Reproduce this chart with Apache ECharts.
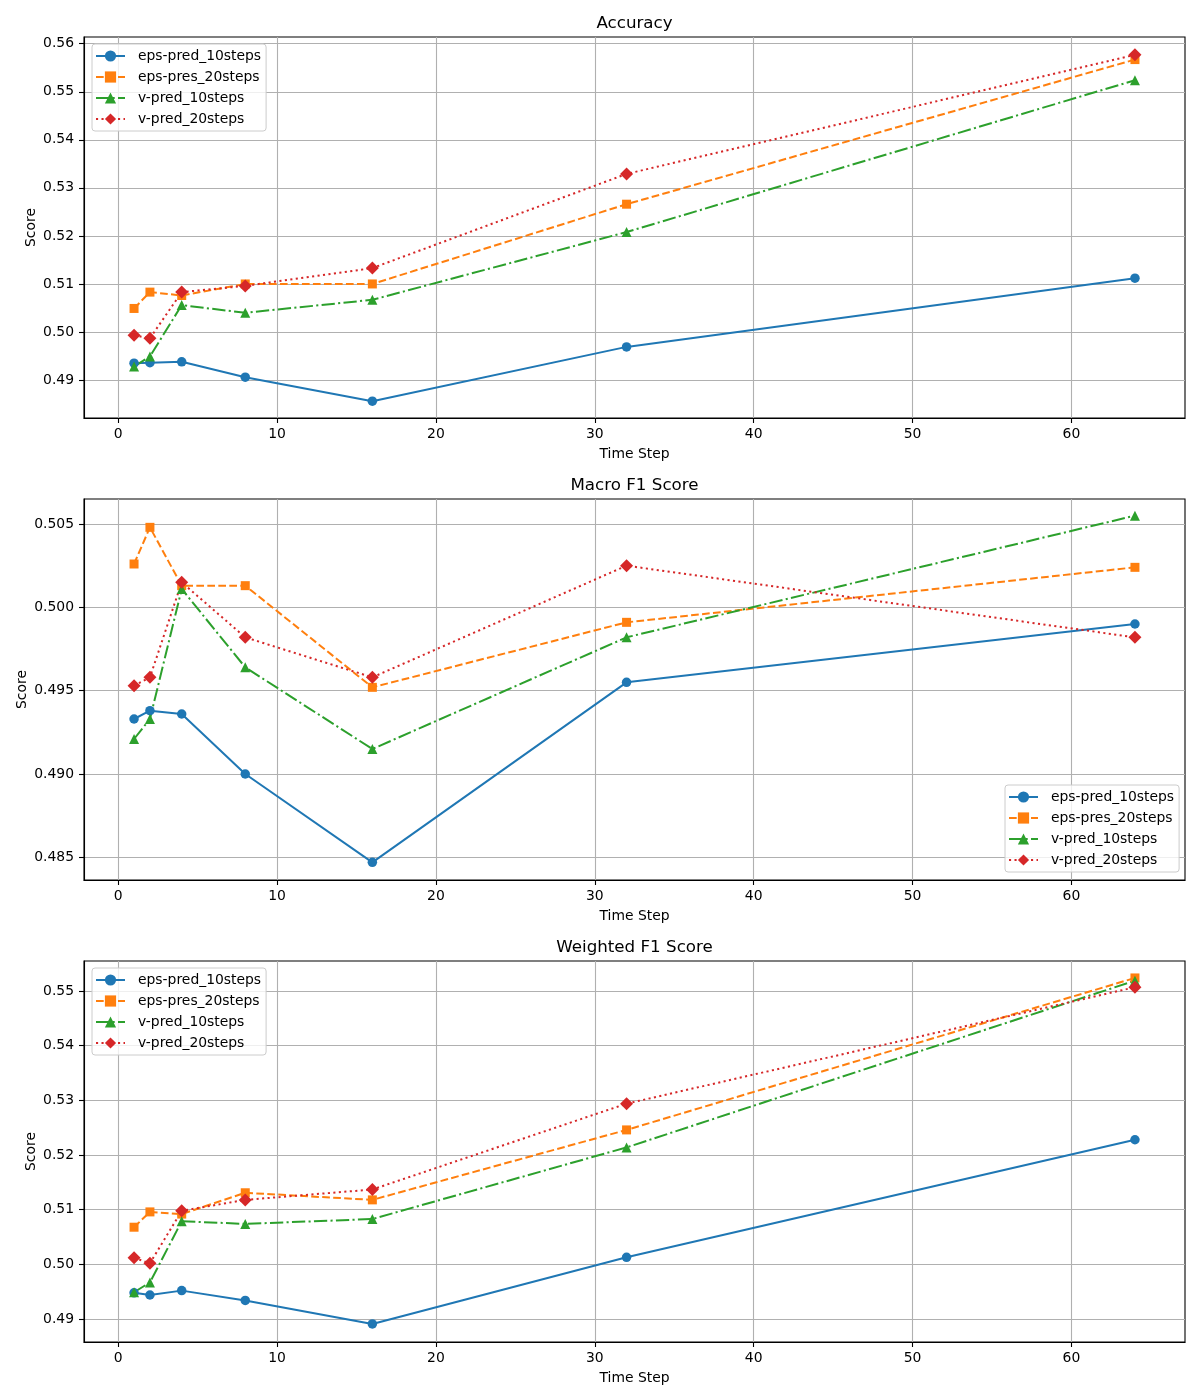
<!DOCTYPE html>
<html>
<head>
<meta charset="utf-8">
<title>Scores by time step</title>
<script src="https://cdn.jsdelivr.net/npm/echarts@6/dist/echarts.min.js"></script>
<style>
  html, body { margin: 0; padding: 0; background: #fff; }
  #chart { width: 1200px; height: 1400px; }
</style>
</head>
<body>
<div id="chart"></div>
<script>
// x values shared by every series
var timeSteps = [1, 2, 4, 8, 16, 32, 64];
var seriesNames = ["eps-pred_10steps", "eps-pres_20steps", "v-pred_10steps", "v-pred_20steps"];

// Accuracy
var accEpsPred10 = [0.4935, 0.4936, 0.4938, 0.4906, 0.4856, 0.4969, 0.5112];
var accEpsPres20 = [0.5049, 0.5083, 0.5076, 0.5100, 0.5100, 0.5266, 0.5567];
var accVPred10   = [0.4928, 0.4949, 0.5056, 0.5040, 0.5067, 0.5208, 0.5524];
var accVPred20   = [0.4993, 0.4987, 0.5083, 0.5096, 0.5133, 0.5329, 0.5577];

// Macro F1
var macEpsPred10 = [0.4933, 0.4938, 0.4936, 0.4900, 0.4847, 0.4955, 0.4990];
var macEpsPres20 = [0.5026, 0.5048, 0.5013, 0.5013, 0.4952, 0.4991, 0.5024];
var macVPred10   = [0.4921, 0.4933, 0.5011, 0.4964, 0.4915, 0.4982, 0.5055];
var macVPred20   = [0.4953, 0.4958, 0.5015, 0.4982, 0.4958, 0.5025, 0.4982];

// Weighted F1
var wEpsPred10 = [0.4948, 0.4944, 0.4952, 0.4934, 0.4891, 0.5013, 0.5228];
var wEpsPres20 = [0.5068, 0.5096, 0.5092, 0.5131, 0.5118, 0.5246, 0.5524];
var wVPred10   = [0.4949, 0.4967, 0.5079, 0.5074, 0.5083, 0.5214, 0.5519];
var wVPred20   = [0.5012, 0.5002, 0.5098, 0.5118, 0.5137, 0.5294, 0.5507];

// tick labels
var xTicks = [0, 10, 20, 30, 40, 50, 60];
var accTicks = [0.49, 0.50, 0.51, 0.52, 0.53, 0.54, 0.55, 0.56];
var macTicks = [0.485, 0.490, 0.495, 0.500, 0.505];
var wTicks = [0.49, 0.50, 0.51, 0.52, 0.53, 0.54, 0.55];

var colors = ["#1f77b4", "#ff7f0e", "#2ca02c", "#d62728"];
var symbols = ["circle", "rect", "triangle", "diamond"];
var symbolSizes = [9.5, 9, 10, 13];
var dashes = ["solid", [7.7, 3.3], [13.3, 3.3, 2.1, 3.3], [2.1, 3.4]];

var panels = [
  { title: "Accuracy", top: 37, min: 0.4821, max: 0.5614, ticks: accTicks, digits: 2, nameGap: 46,
    data: [accEpsPred10, accEpsPres20, accVPred10, accVPred20], legend: { left: 92, top: 44 } },
  { title: "Macro F1 Score", top: 499, min: 0.48364, max: 0.5065, ticks: macTicks, digits: 3, nameGap: 55,
    data: [macEpsPred10, macEpsPres20, macVPred10, macVPred20], legend: { left: 1005, top: 785 } },
  { title: "Weighted F1 Score", top: 961, min: 0.4858, max: 0.5555, ticks: wTicks, digits: 2, nameGap: 46,
    data: [wEpsPred10, wEpsPres20, wVPred10, wVPred20], legend: { left: 92, top: 968 } }
];

var plotLeft = 84, plotRight = 1185, plotHeight = 381;
var textStyle = { fontFamily: "DejaVu Sans", fontSize: 13.9, color: "#000" };

var option = {
  animation: false,
  backgroundColor: "#fff",
  textStyle: { fontFamily: "DejaVu Sans" },
  grid: [], xAxis: [], yAxis: [], legend: [], series: [], graphic: []
};

panels.forEach(function (p, i) {
  option.grid.push({
    left: plotLeft, width: plotRight - plotLeft, top: p.top, height: plotHeight,
    show: true, borderColor: "#000", borderWidth: 1.1, backgroundColor: "transparent"
  });
  option.xAxis.push({
    type: "value", gridIndex: i, min: -2.15, max: 67.15,
    name: "Time Step", nameLocation: "middle", nameGap: 29, nameMoveOverlap: false,
    nameTextStyle: textStyle,
    axisLine: { show: true, onZero: false, lineStyle: { color: "#000", width: 1.1 } },
    axisTick: { show: true, length: 5, customValues: xTicks, lineStyle: { color: "#000", width: 1.1 } },
    axisLabel: { customValues: xTicks, margin: 9, fontFamily: "DejaVu Sans", fontSize: 13.9, color: "#000" },
    splitLine: { show: true, lineStyle: { color: "#b0b0b0", width: 1.1 } }
  });
  option.yAxis.push({
    type: "value", gridIndex: i, min: p.min, max: p.max,
    name: "Score", nameLocation: "middle", nameRotate: 90, nameGap: p.nameGap, nameMoveOverlap: false,
    nameTextStyle: textStyle,
    axisLine: { show: true, onZero: false, lineStyle: { color: "#000", width: 1.1 } },
    axisTick: { show: true, length: 5, customValues: p.ticks, lineStyle: { color: "#000", width: 1.1 } },
    axisLabel: {
      customValues: p.ticks, margin: 10, fontFamily: "DejaVu Sans", fontSize: 13.9, color: "#000",
      formatter: (function (d) { return function (v) { return v.toFixed(d); }; })(p.digits)
    },
    splitLine: { show: true, lineStyle: { color: "#b0b0b0", width: 1.1 } }
  });
  option.legend.push({
    data: seriesNames, orient: "vertical", left: p.legend.left, top: p.legend.top,
    itemWidth: 29, itemHeight: 14, itemGap: 7, padding: [5, 5, 5, 3],
    backgroundColor: "rgba(255,255,255,0.8)", borderColor: "#cccccc", borderWidth: 1, borderRadius: 3,
    textStyle: { fontFamily: "DejaVu Sans", fontSize: 13.9, color: "#000", padding: [0, 0, 0, 8] },
    selectedMode: false
  });
  option.graphic.push({
    type: "text", x: (plotLeft + plotRight) / 2, y: p.top - 13,
    style: { text: p.title, fontFamily: "DejaVu Sans", fontSize: 16.7, fill: "#000", align: "center", verticalAlign: "middle" }
  });
  p.data.forEach(function (vals, k) {
    option.series.push({
      name: seriesNames[k], type: "line", xAxisIndex: i, yAxisIndex: i,
      data: timeSteps.map(function (t, j) { return [t, vals[j]]; }),
      symbol: symbols[k], symbolSize: symbolSizes[k], showAllSymbol: true,
      lineStyle: { color: colors[k], width: 2, type: dashes[k] },
      itemStyle: { color: colors[k], borderWidth: 0 },
      emphasis: { disabled: true }
    });
  });
});

var chart = echarts.init(document.getElementById("chart"));
chart.setOption(option);
</script>
</body>
</html>
